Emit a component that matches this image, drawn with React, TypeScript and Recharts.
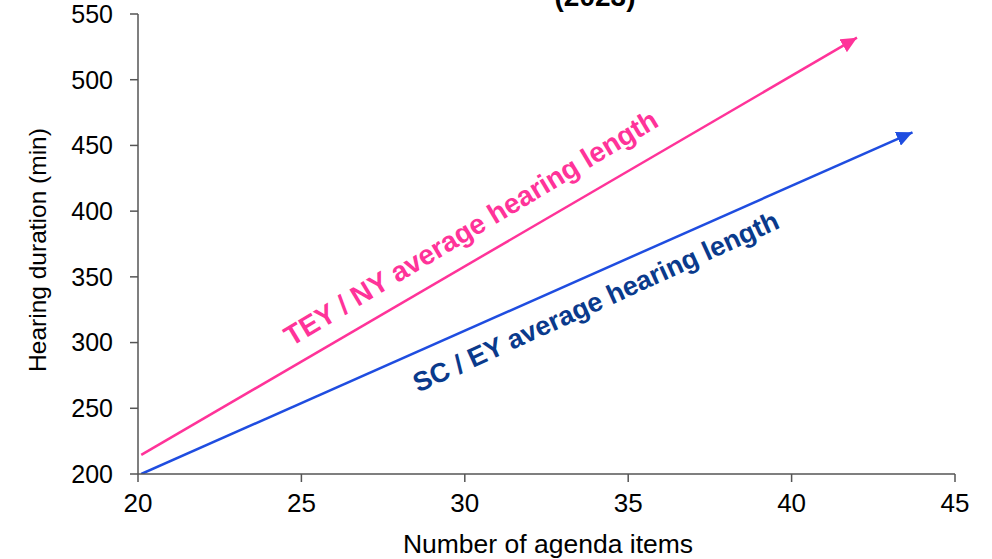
import React from 'react';
import { LineChart, Line, XAxis, YAxis, ReferenceDot } from 'recharts';

const xTicks = [20, 25, 30, 35, 40, 45];
const yTicks = [200, 250, 300, 350, 400, 450, 500, 550];

const teyNyX = [20.1, 42.0];
const teyNyY = [214.5, 532];
const scEyX = [20.1, 43.7];
const scEyY = [200, 460];

const teyNyLabel = 'TEY / NY average hearing length';
const scEyLabel = 'SC / EY average hearing length';
const titleText = '(2023)';
const xAxisTitle = 'Number of agenda items';
const yAxisTitle = 'Hearing duration (min)';

const teyNyData = teyNyX.map((x, i) => ({ x, y: teyNyY[i] }));
const scEyData = scEyX.map((x, i) => ({ x, y: scEyY[i] }));

const FONT = '"Liberation Sans", Arial, sans-serif';
const PINK = '#ff3399';
const BLUE = '#1f4de0';
const NAVY = '#0a3a8c';
const AXIS = '#555';

const rotatedLabel = (text: string, color: string, angle: number, size: number) => (p: any) => (
  <text
    x={p.cx}
    y={p.cy}
    transform={`rotate(${-angle} ${p.cx} ${p.cy})`}
    textAnchor="middle"
    dominantBaseline="central"
    fill={color}
    fontWeight="bold"
    fontSize={size}
    fontFamily={FONT}
  >
    {text}
  </text>
);

export default function App() {
  return (
    <div style={{ position: 'fixed', left: 0, top: 0, width: 992, height: 559, background: '#fff' }}>
      <svg width={0} height={0} style={{ position: 'absolute' }}>
        <defs>
          <marker id="arrowPink" markerUnits="userSpaceOnUse" markerWidth={17} markerHeight={15} refX={16} refY={7.5} orient="auto">
            <path d="M0,0 L16,7.5 L0,15 z" fill={PINK} />
          </marker>
          <marker id="arrowBlue" markerUnits="userSpaceOnUse" markerWidth={17} markerHeight={15} refX={16} refY={7.5} orient="auto">
            <path d="M0,0 L16,7.5 L0,15 z" fill={BLUE} />
          </marker>
        </defs>
      </svg>
      <LineChart
        width={992}
        height={559}
        margin={{ top: 14, right: 37, bottom: 0, left: 0 }}
        style={{ fontFamily: FONT }}
      >
        <XAxis
          dataKey="x"
          type="number"
          domain={[20, 45]}
          ticks={xTicks}
          allowDataOverflow
          height={85}
          tickSize={8}
          tickMargin={12}
          stroke={AXIS}
          strokeWidth={1.5}
          tick={{ fill: '#000', fontSize: 26, fontFamily: FONT }}
          label={() => (
            <text x={548} y={553} textAnchor="middle" fontSize={26.5} fontFamily={FONT} fill="#000">
              {xAxisTitle}
            </text>
          )}
        />
        <YAxis
          type="number"
          domain={[200, 550]}
          ticks={yTicks}
          allowDataOverflow
          width={138}
          tickSize={8}
          tickMargin={17}
          stroke={AXIS}
          strokeWidth={1.5}
          tick={{ fill: '#000', fontSize: 25, fontFamily: FONT }}
          label={() => (
            <text
              x={46}
              y={250}
              transform="rotate(-90 46 250)"
              textAnchor="middle"
              fontSize={24.5}
              fontFamily={FONT}
              fill="#000"
            >
              {yAxisTitle}
            </text>
          )}
        />
        <Line
          data={teyNyData}
          dataKey="y"
          stroke={PINK}
          strokeWidth={2.5}
          dot={false}
          isAnimationActive={false}
          markerEnd="url(#arrowPink)"
        />
        <Line
          data={scEyData}
          dataKey="y"
          stroke={BLUE}
          strokeWidth={2.5}
          dot={false}
          isAnimationActive={false}
          markerEnd="url(#arrowBlue)"
        />
        <ReferenceDot x={30.19} y={387.2} r={0} shape={rotatedLabel(teyNyLabel, PINK, 31, 28)} />
        <ReferenceDot x={34.01} y={330.9} r={0} shape={rotatedLabel(scEyLabel, NAVY, 24.5, 27)} />
      </LineChart>
      <svg width={992} height={40} style={{ position: 'absolute', left: 0, top: 0, pointerEvents: 'none' }}>
        <text x={595} y={6} textAnchor="middle" fontSize={28} fontWeight="bold" fontFamily={FONT} fill="#000">
          {titleText}
        </text>
      </svg>
    </div>
  );
}
